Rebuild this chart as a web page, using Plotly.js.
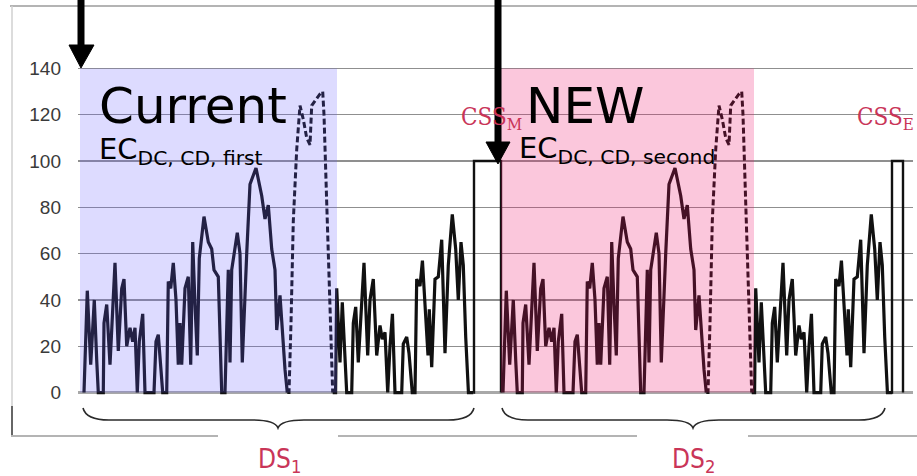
<!DOCTYPE html>
<html>
<head>
<meta charset="utf-8">
<script src="https://cdn.plot.ly/plotly-3.0.1.min.js"></script>
<style>html,body{margin:0;padding:0;background:#fff;}#chart{width:917px;height:476px;}</style>
</head>
<body>
<div id="chart"></div>
<script>
// ---- data (time in s, speed in km/h) ----
const mainTime = [7,30,54,79,96,107,142,147,166,189,224,247,271,287,306,329,348,364,380,394,418,434,497,511,527,544,558,586,
  597,614,632,651,667,679,691,714,737,754,768,784,800,814,847,877,901,917,947,971,994,
  1017,1029,1041,1064,1080,1099,1115,1146,1169,1211,1251,1274,1297,1321,1344,1356,1379,1414,1430];
const mainSpeed = [0,44,12,40,14,0,0,30,38,12,56,18,45,49,20,28,22,28,0,22,34,0,0,22,25,10,0,0,
  48,45,56,40,12,30,12,45,50,12,65,38,16,58,76,65,62,53,50,0,0,
  53,13,53,62,69,60,13,60,90,97,85,75,81,62,53,27,42,10,0];
const extraHighTime = [1430,1442,1456,1472,1496,1519,1542,1566,1589,1601,1624,1659,1678,1687,1706,1729,1748];
const extraHighSpeed = [0,0,30,74,105,124,118,110,107,124,126,129,130,120,82,39,0];
const repeatTime = [1748,1768,1776,1799,1815,1834,1846,1881,1892,1909,1927,1967,1993,2009,2032,2056,2079,2095,2114,2133,2149,2166,2184,2231,2242,2266,2282,2305,2324,
  2336,2359,2376,2394,2415,2424,2441,2464,2487,2511,2534,2557,2585,2609,2627,2646,2662,2679,2698,2732];
const repeatSpeed = [0,0,45,13,39,11,0,0,30,37,13,56,16,40,49,16,29,23,26,0,20,34,0,0,21,24,17,0,0,
  49,46,57,40,16,36,11,49,50,66,17,55,77,62,40,65,55,24,0,0];
const cssMTime = [2732,2737,2737,2926,2926];
const cssMSpeed = [0,0,100,100,0];
const cssETime = [5656,5663,5663,5740,5740];
const cssESpeed = [0,0,100,100,0];
const sequenceStart = [0, 2933];          // DS1, DS2
const shadeStart = [-21, 2926];
const shadeEnd = [1778, 4697];
const shadeColors = ['rgba(100,90,255,0.22)', 'rgba(240,20,110,0.24)'];
const yTicks = [0,20,40,60,80,100,120,140];
const yTickText = ['0','20','40','60','80','100','120','140'];

// ---- helpers for decoration placement ----
const L = 78, R = 913, T = 65, B = 396;
const px = x => (x - L) / (R - L);
const py = y => (B - y) / (B - T);
const shift = (arr, d) => arr.map(v => v + d);

const lineStyle = {color: '#111', width: 3.2};
const traces = [];
sequenceStart.forEach(d => {
  traces.push({x: shift(mainTime, d), y: mainSpeed, mode: 'lines', line: lineStyle, hoverinfo: 'skip'});
  traces.push({x: shift(extraHighTime, d), y: extraHighSpeed, mode: 'lines', line: {color: '#111', width: 3, dash: '6px,3px'}, hoverinfo: 'skip'});
  traces.push({x: shift(repeatTime, d), y: repeatSpeed, mode: 'lines', line: lineStyle, hoverinfo: 'skip'});
});
traces.push({x: cssMTime, y: cssMSpeed, mode: 'lines', line: {color: '#111', width: 2.4}, hoverinfo: 'skip'});
traces.push({x: cssETime, y: cssESpeed, mode: 'lines', line: {color: '#111', width: 2.4}, hoverinfo: 'skip'});

const shapes = [];
shadeStart.forEach((s, i) => {
  shapes.push({type: 'rect', xref: 'x', yref: 'y', x0: s, x1: shadeEnd[i], y0: 0, y1: 140,
    fillcolor: shadeColors[i], line: {width: 0}, layer: 'above'});
});
function pline(x0, y0, x1, y1, color, width) {
  shapes.push({type: 'line', xref: 'paper', yref: 'paper', x0: px(x0), y0: py(y0), x1: px(x1), y1: py(y1),
    line: {color: color, width: width}, layer: 'above'});
}
function ppath(pts, fill, color, width, closed) {
  let d = '';
  pts.forEach((p, i) => {
    if (typeof p === 'string') { d += ' ' + p; return; }
    d += (d === '' ? 'M' : ' ') + px(p[0]).toFixed(5) + ',' + py(p[1]).toFixed(5);
  });
  if (closed) d += ' Z';
  shapes.push({type: 'path', xref: 'paper', yref: 'paper', path: d, fillcolor: fill || 'rgba(0,0,0,0)',
    line: {color: color, width: width}, layer: 'above'});
}
// outer frame pieces
pline(10, 6, 917, 6, '#b4b4b4', 2);
pline(12, 6, 12, 406, '#d0d0d0', 1.5);
pline(12, 406, 12, 436, '#666', 2);
pline(11, 436, 218, 436, '#b4b4b4', 2);
pline(338, 436, 637, 436, '#b4b4b4', 2);
pline(748, 436, 917, 436, '#b4b4b4', 2);
// arrows
pline(81, 0, 81, 50, '#000', 7);
ppath([[69, 45], 'L', [94, 45], 'L', [81, 68]], '#000', '#000', 1, true);
pline(498, 0, 498, 145, '#000', 7);
ppath([[486, 142], 'L', [510, 142], 'L', [498, 164]], '#000', '#000', 1, true);
// braces
function brace(a, b, m) {
  ppath([[a, 408], 'Q', [a + 3, 420], [a + 26, 420], 'L', [m - 26, 420], 'Q', [m - 3, 420], [m, 428],
    'Q', [m + 3, 420], [m + 26, 420], 'L', [b - 26, 420], 'Q', [b - 3, 420], [b, 408]], null, '#2a2a2a', 1.6, false);
}
brace(83, 474, 278);
brace(502, 885, 693);

const red = '#c93558';
function ann(text, x, y, size, color, family) {
  return {text: text, xref: 'paper', yref: 'paper', x: px(x), y: py(y), xanchor: 'left', yanchor: 'middle',
    showarrow: false, font: {size: size, color: color, family: family}};
}
const sans = 'DejaVu Sans, Verdana, sans-serif';
const slab = 'DejaVu Serif Condensed, Liberation Serif, serif';
const narrow = 'DejaVu Sans Condensed, Liberation Sans, Arial, sans-serif';
const annotations = [
  ann('Current', 97, 106, 50, '#000', sans),
  ann('EC<sub>DC, CD, first</sub>', 97, 151, 29, '#000', sans),
  ann('NEW', 524, 106, 50, '#000', sans),
  ann('EC<sub>DC, CD, second</sub>', 517, 150, 29, '#000', sans),
  ann('CSS<sub>M</sub>', 459, 118, 24, red, slab),
  ann('CSS<sub>E</sub>', 855, 118, 24, red, slab),
  ann('DS<sub>1</sub>', 256, 460, 26, red, narrow),
  ann('DS<sub>2</sub>', 670, 460, 26, red, narrow)
];

const layout = {
  width: 917, height: 476,
  margin: {l: L, r: 917 - R, t: T, b: 476 - B, pad: 0},
  paper_bgcolor: '#fff', plot_bgcolor: '#fff',
  showlegend: false,
  xaxis: {range: [-35, 5810], showgrid: false, zeroline: false, showticklabels: false, ticks: '', showline: false, fixedrange: true},
  yaxis: {range: [-1.5, 141.5], tickvals: yTicks, ticktext: yTickText, showgrid: true, gridcolor: '#8f8f8f', gridwidth: 1.4,
    zeroline: true, zerolinecolor: '#a8a8a8', zerolinewidth: 2.2, showline: false, ticks: '',
    ticklabelstandoff: 16, tickfont: {family: 'Liberation Sans, Arial, sans-serif', size: 19, color: '#3a3a3a'}, fixedrange: true},
  shapes: shapes,
  annotations: annotations
};
Plotly.newPlot('chart', traces, layout, {staticPlot: true, displayModeBar: false});
</script>
</body>
</html>
